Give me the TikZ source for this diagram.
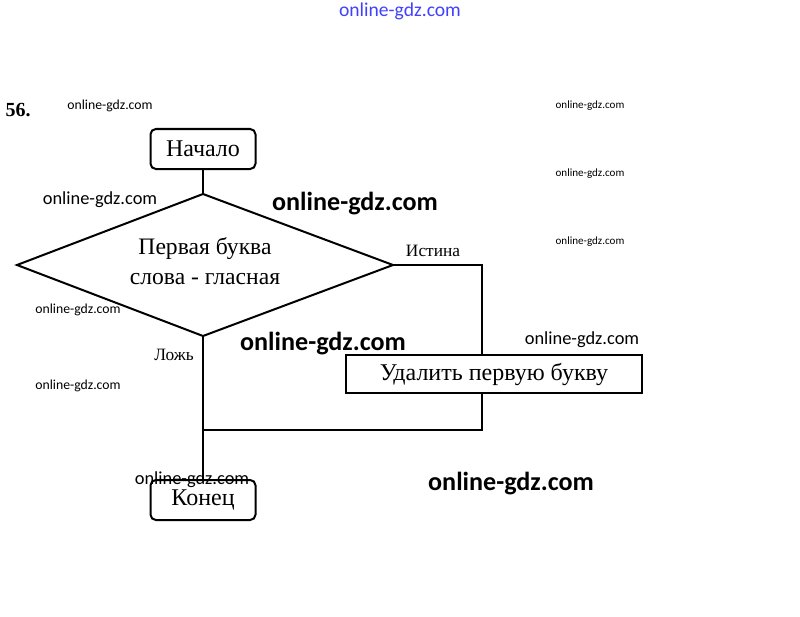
\documentclass[tikz,border=0pt]{standalone}
\usepackage{fontspec}
\setmainfont{Liberation Serif}
\newfontfamily\wmfont{Carlito}
\begin{document}
\begin{tikzpicture}[x=0.75pt,y=-0.75pt,
  term/.style={draw,line width=1.5pt,rounded corners=4pt,minimum width=78.75pt,minimum height=30pt,inner sep=0pt,font=\fontsize{18}{20}\selectfont},
  proc/.style={draw,line width=1.2pt,minimum width=222pt,minimum height=28.5pt,inner sep=0pt,font=\fontsize{18}{20}\selectfont},
  dectext/.style={align=center,inner sep=0pt,font=\fontsize{17.7}{22.5}\selectfont},
  lbl/.style={font=\fontsize{13}{15}\selectfont},
  conn/.style={line width=1.5pt},
  wms/.style={font=\wmfont\fontsize{10.3}{11}\selectfont},
  wmr/.style={font=\wmfont\fontsize{8.3}{9}\selectfont},
  wmm/.style={font=\wmfont\fontsize{13.8}{15}\selectfont},
  wml/.style={font=\wmfont\bfseries\fontsize{19.6}{21}\selectfont}]
\useasboundingbox (0,0) rectangle (800,617);
\fill[white] (0,0) rectangle (800,617);
% title
\node[font=\bfseries\fontsize{15}{17}\selectfont] (num) at (18,110) {56.};
% nodes
\node[term] (start) at (203,149) {Начало};
\coordinate (dt) at (203,194);
\coordinate (dl) at (17,265);
\coordinate (dr) at (393,265);
\coordinate (db) at (203,336);
\draw[conn,line join=miter] (dt) -- (dr) -- (db) -- (dl) -- cycle;
\node[dectext] (cond) at (205,261) {Первая буква\\слова - гласная};
\node[proc] (del) at (494,374) {Удалить первую букву};
\node[term] (end) at (203,500) {Конец};
\node[lbl,anchor=south] (yes) at (433,261) {Истина};
\node[lbl] (no) at (174,355) {Ложь};
\coordinate (cr) at (482,265);
\coordinate (jb) at (482,430);
\coordinate (jl) at (203,430);
% connectors
\draw[conn] (start.south) -- (dt);
\draw[conn] (dr) -- (cr) -- (del.north -| cr);
\draw[conn] (del.south -| jb) -- (jb) -- (jl);
\draw[conn] (db) -- (end.north);
% watermarks
\node[font=\wmfont\fontsize{14.7}{16}\selectfont,text=blue!75] (w0) at (400,11) {online-gdz.com};
\node[wms] (w1) at (110,106) {online-gdz.com};
\node[wmr] (w2) at (590,106) {online-gdz.com};
\node[wmr] (w3) at (590,174) {online-gdz.com};
\node[wmr] (w4) at (590,242) {online-gdz.com};
\node[wmm] (w5) at (100,200) {online-gdz.com};
\node[wml] (w6) at (355,204) {online-gdz.com};
\node[wms] (w7) at (78,310) {online-gdz.com};
\node[wml] (w8) at (323,344) {online-gdz.com};
\node[wmm] (w9) at (582,340) {online-gdz.com};
\node[wms] (w10) at (78,386) {online-gdz.com};
\node[wmm] (w11) at (192,480) {online-gdz.com};
\node[wml] (w12) at (511,484) {online-gdz.com};
\end{tikzpicture}
\end{document}
